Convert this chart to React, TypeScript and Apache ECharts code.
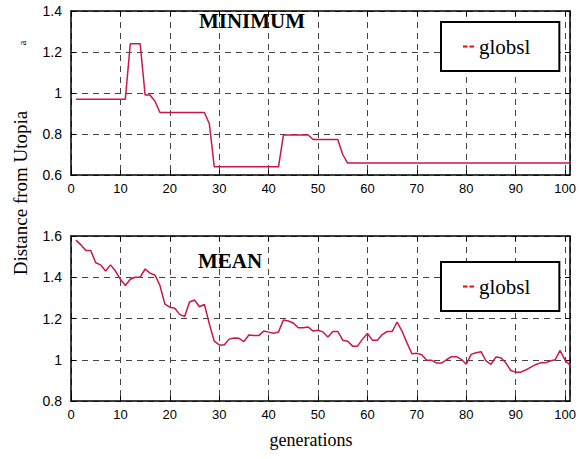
import React, { useEffect, useRef } from "react";
import * as echarts from "echarts";

const generations = Array.from({ length: 101 }, (_, i) => i + 1);

const minimumValues = [
  0.97, 0.97, 0.97, 0.97, 0.97, 0.97, 0.97, 0.97, 0.97, 0.97,
  0.97, 1.24, 1.24, 1.24, 0.99, 0.99, 0.96, 0.905, 0.905, 0.905,
  0.905, 0.905, 0.905, 0.905, 0.905, 0.905, 0.905, 0.85, 0.64, 0.64,
  0.64, 0.64, 0.64, 0.64, 0.64, 0.64, 0.64, 0.64, 0.64, 0.64,
  0.64, 0.64, 0.795, 0.795, 0.795, 0.795, 0.795, 0.795, 0.773, 0.773,
  0.773, 0.773, 0.773, 0.773, 0.70, 0.658, 0.658, 0.658, 0.658, 0.658,
  0.658, 0.658, 0.658, 0.658, 0.658, 0.658, 0.658, 0.658, 0.658, 0.658,
  0.658, 0.658, 0.658, 0.658, 0.658, 0.658, 0.658, 0.658, 0.658, 0.658,
  0.658, 0.658, 0.658, 0.658, 0.658, 0.658, 0.658, 0.658, 0.658, 0.658,
  0.658, 0.658, 0.658, 0.658, 0.658, 0.658, 0.658, 0.658, 0.658, 0.658,
  0.658,
];

const meanValues = [
  1.58, 1.557, 1.53, 1.53, 1.47, 1.46, 1.43, 1.46, 1.43, 1.39,
  1.36, 1.39, 1.4, 1.4, 1.44, 1.42, 1.41, 1.36, 1.27, 1.255,
  1.25, 1.22, 1.21, 1.28, 1.29, 1.257, 1.268, 1.174, 1.09, 1.072,
  1.072, 1.1, 1.105, 1.104, 1.088, 1.12, 1.117, 1.117, 1.139, 1.134,
  1.128, 1.135, 1.193, 1.188, 1.178, 1.155, 1.155, 1.159, 1.139, 1.143,
  1.135, 1.11, 1.137, 1.137, 1.095, 1.09, 1.066, 1.066, 1.1, 1.127,
  1.095, 1.095, 1.122, 1.137, 1.137, 1.183, 1.139, 1.082, 1.029, 1.031,
  1.024, 0.998, 0.997, 0.984, 0.984, 1.0, 1.015, 1.015, 1.002, 0.978,
  1.026, 1.034, 1.039, 0.994, 0.978, 1.013, 1.01, 0.985, 0.948, 0.94,
  0.94, 0.95, 0.963, 0.976, 0.985, 0.985, 0.994, 1.0, 1.045, 0.998,
  0.974,
];

const seriesName = "globsl";
const panelTitles = ["MINIMUM", "MEAN"];
const xAxisName = "generations";
const yAxisName = "Distance from Utopia";
const xTickRange = { min: 0, max: 101, interval: 10 };
const topYRange = { min: 0.6, max: 1.4, interval: 0.2 };
const bottomYRange = { min: 0.8, max: 1.6, interval: 0.2 };

const SANS = '"Liberation Sans", Arial, sans-serif';
const SERIF = '"Liberation Serif", "Times New Roman", serif';

export default function App() {
  const ref = useRef<HTMLDivElement>(null);

  useEffect(() => {
    if (!ref.current) return;
    const chart = echarts.init(ref.current, null, { renderer: "svg" });

    const axisLine = { show: true, onZero: false, lineStyle: { color: "#000", width: 1.5 } };
    const tick = { show: true, inside: true, length: 5, lineStyle: { color: "#000", width: 1 } };
    const split = { show: true, lineStyle: { color: "#444", width: 1, type: [6, 5] as any } };

    const xLabel = {
      show: true,
      fontFamily: SANS,
      fontSize: 13,
      color: "#000",
      margin: 7,
      formatter: (v: number) => (v > 100 ? "" : String(v)),
      showMaxLabel: false,
    };
    const yLabel = { show: true, fontFamily: SANS, fontSize: 14, color: "#000", margin: 9 };

    const makeX = (gi: number, pos: "bottom" | "top") => ({
      type: "value",
      gridIndex: gi,
      position: pos,
      min: xTickRange.min,
      max: xTickRange.max,
      interval: xTickRange.interval,
      axisLine,
      axisTick: tick,
      axisLabel: pos === "bottom" ? xLabel : { show: false },
      splitLine: pos === "bottom" ? split : { show: false },
    });
    const makeY = (gi: number, pos: "left" | "right", r: any) => ({
      type: "value",
      gridIndex: gi,
      position: pos,
      min: r.min,
      max: r.max,
      interval: r.interval,
      axisLine,
      axisTick: tick,
      axisLabel: pos === "left" ? yLabel : { show: false },
      splitLine: pos === "left" ? split : { show: false },
    });

    const legendIcon = "path://M0,0h4.5v2h-4.5z M6.5,0h4.5v2h-4.5z";
    const makeLegend = (top: number) => ({
      show: true,
      left: 441,
      top,
      orient: "vertical",
      padding: [14, 29, 14, 22],
      backgroundColor: "#fff",
      borderColor: "#000",
      borderWidth: 2,
      borderRadius: 0,
      itemWidth: 11,
      itemHeight: 2,
      selectedMode: false,
      textStyle: { fontFamily: SERIF, fontSize: 21, color: "#000" },
      data: [{ name: seriesName, icon: legendIcon, itemStyle: { color: "#ff0000" } }],
      z: 10,
    });

    const lineColor = "#cc1648";

    chart.setOption({
      animation: false,
      backgroundColor: "#fff",
      grid: [
        { left: 71, top: 11, width: 499, height: 164 },
        { left: 71, top: 236, width: 499, height: 165 },
      ],
      xAxis: [makeX(0, "bottom"), makeX(0, "top"), makeX(1, "bottom"), makeX(1, "top")],
      yAxis: [
        makeY(0, "left", topYRange),
        makeY(0, "right", topYRange),
        makeY(1, "left", bottomYRange),
        makeY(1, "right", bottomYRange),
      ],
      legend: [makeLegend(22), makeLegend(262)],
      series: [
        {
          name: seriesName,
          type: "line",
          xAxisIndex: 0,
          yAxisIndex: 0,
          showSymbol: false,
          data: generations.map((g, i) => [g, minimumValues[i]]),
          lineStyle: { color: lineColor, width: 1.5 },
          itemStyle: { color: lineColor },
          z: 5,
        },
        {
          name: seriesName,
          type: "line",
          xAxisIndex: 2,
          yAxisIndex: 2,
          showSymbol: false,
          data: generations.map((g, i) => [g, meanValues[i]]),
          lineStyle: { color: lineColor, width: 1.5 },
          itemStyle: { color: lineColor },
          z: 5,
        },
      ],
      graphic: [
        {
          type: "text",
          x: 252,
          y: 21,
          z: 20,
          style: {
            text: panelTitles[0],
            font: `bold 21px ${SERIF}`,
            fill: "#000",
            textAlign: "center",
            textVerticalAlign: "middle",
          },
        },
        {
          type: "text",
          x: 230,
          y: 261,
          z: 20,
          style: {
            text: panelTitles[1],
            font: `bold 21px ${SERIF}`,
            fill: "#000",
            textAlign: "center",
            textVerticalAlign: "middle",
          },
        },
        {
          type: "text",
          x: 311,
          y: 440,
          style: {
            text: xAxisName,
            font: `18px ${SERIF}`,
            fill: "#000",
            textAlign: "center",
            textVerticalAlign: "middle",
          },
        },
        {
          type: "text",
          x: 20,
          y: 193,
          rotation: Math.PI / 2,
          style: {
            text: yAxisName,
            font: `19px ${SERIF}`,
            fill: "#000",
            textAlign: "center",
            textVerticalAlign: "middle",
          },
        },
        {
          type: "text",
          x: 22,
          y: 43,
          rotation: Math.PI / 2,
          style: {
            text: "a",
            font: `11px ${SERIF}`,
            fill: "#000",
            textAlign: "center",
            textVerticalAlign: "middle",
          },
        },
      ],
    });

    return () => chart.dispose();
  }, []);

  return (
    <div
      ref={ref}
      style={{ position: "fixed", left: 0, top: 0, width: 586, height: 459, background: "#fff" }}
    />
  );
}
